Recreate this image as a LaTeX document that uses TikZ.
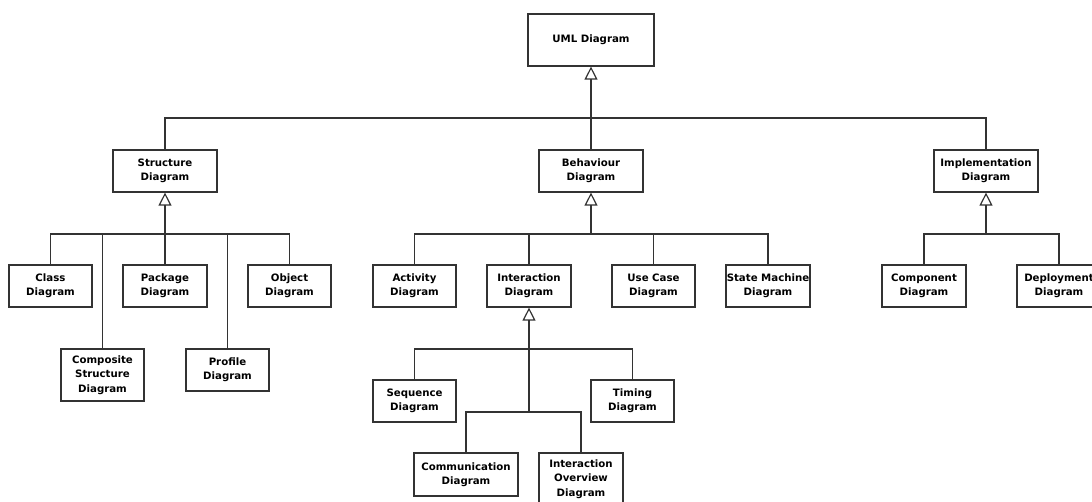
\documentclass[tikz,border=0pt]{standalone}
\usepackage{fontspec}
\setmainfont{DejaVu Sans}
\usetikzlibrary{arrows.meta}
\begin{document}
\begin{tikzpicture}[x=1pt,y=-1pt,
  box/.style={draw=black!80, line width=1.2pt, fill=white, align=center,
    inner sep=0pt, minimum height=42pt, minimum width=84pt,
    font=\bfseries\fontsize{10.2}{14.3}\selectfont},
  tall/.style={minimum height=52pt},
  link/.style={draw=black!80, line width=1.2pt},
  gen/.style={link, -{Triangle[open, length=13pt, width=13pt]}}
]
\useasboundingbox (0,0) rectangle (1092,501);

% root and first level
\node[box, minimum width=126pt, minimum height=52pt] (uml) at (591,40) {UML Diagram};
\node[box, minimum width=104pt] (struct) at (165,171) {Structure\\Diagram};
\node[box, minimum width=104pt] (behav) at (591,171) {Behaviour\\Diagram};
\node[box, minimum width=104pt] (impl) at (986,171) {Implementation\\Diagram};

% structure diagrams
\node[box, minimum width=83pt] (class) at (50.5,286) {Class\\Diagram};
\node[box] (package) at (165,286) {Package\\Diagram};
\node[box, minimum width=83pt] (object) at (289.5,286) {Object\\Diagram};
\node[box, tall, minimum width=83pt] (composite) at (102.5,375) {Composite\\Structure\\Diagram};
\node[box, minimum width=83pt] (profile) at (227.5,370) {Profile\\Diagram};

% behaviour diagrams
\node[box, minimum width=83pt] (activity) at (414.5,286) {Activity\\Diagram};
\node[box] (inter) at (529,286) {Interaction\\Diagram};
\node[box, minimum width=83pt] (usecase) at (653.5,286) {Use Case\\Diagram};
\node[box] (state) at (768,286) {State Machine\\Diagram};

% interaction diagrams
\node[box, minimum width=83pt] (seq) at (414.5,401) {Sequence\\Diagram};
\node[box, minimum width=83pt] (timing) at (632.5,401) {Timing\\Diagram};
\node[box, minimum width=104pt, minimum height=43pt] (comm) at (466,474.5) {Communication\\Diagram};
\node[box, tall] (overview) at (581,479) {Interaction\\Overview\\Diagram};

% implementation diagrams
\node[box] (comp) at (924,286) {Component\\Diagram};
\node[box] (deploy) at (1059,286) {Deployment\\Diagram};

% junction points of the generalisation trees
\coordinate (t) at (591,118);
\coordinate (sb) at (165,234);
\coordinate (bb) at (591,234);
\coordinate (mb) at (986,234);
\coordinate (ib) at (529,349);
\coordinate (ic) at (529,412);

% UML Diagram
\draw[gen] (t) -- (uml.south);
\draw[link] (struct.north) |- (t) -| (impl.north);
\draw[link] (behav.north) -- (t);

% Structure Diagram
\draw[gen] (sb) -- (struct.south);
\draw[link] (class.north) |- (sb) -| (object.north);
\draw[link] (composite.north) |- (sb);
\draw[link] (profile.north) |- (sb);
\draw[link] (package.north) -- (sb);

% Behaviour Diagram
\draw[gen] (bb) -- (behav.south);
\draw[link] (activity.north) |- (bb) -| (state.north);
\draw[link] (inter.north) |- (bb);
\draw[link] (usecase.north) |- (bb);

% Interaction Diagram
\draw[gen] (ic) -- (inter.south);
\draw[link] (seq.north) |- (ib) -| (timing.north);
\draw[link] (comm.north) |- (ic) -| (overview.north);

% Implementation Diagram
\draw[gen] (mb) -- (impl.south);
\draw[link] (comp.north) |- (mb) -| (deploy.north);
\end{tikzpicture}
\end{document}
